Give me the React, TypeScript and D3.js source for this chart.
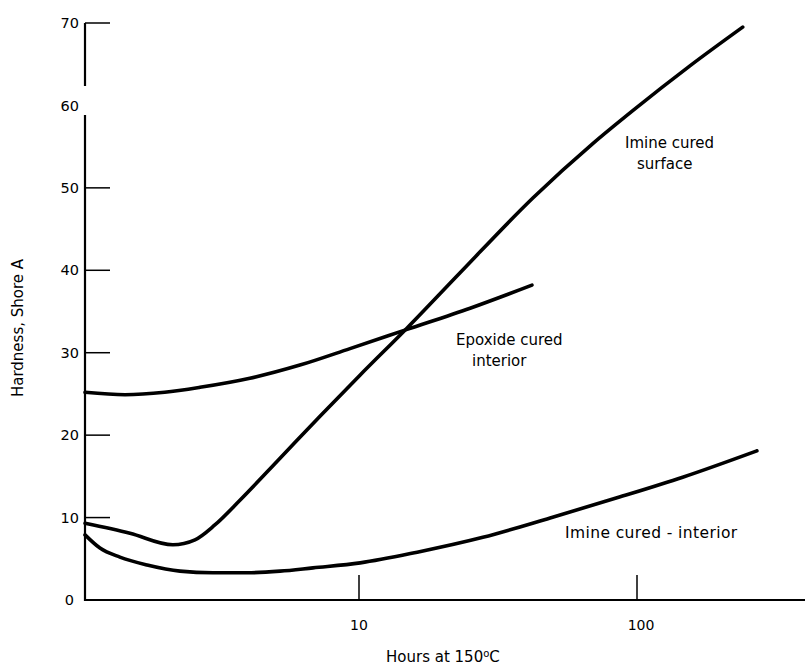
import React from 'react';
import * as d3 from 'd3';

// Hours at 150 C (log scale) vs Shore A hardness
const epoxideHours = [1.034, 1.44, 2.0, 2.68, 4.05, 6.13, 9.28, 14.8, 25.1, 41.9];
const epoxideHard = [25.2, 24.9, 25.2, 25.8, 26.9, 28.5, 30.5, 32.8, 35.4, 38.2];

const surfaceHours = [1.034, 1.5, 2.14, 2.57, 3.03, 3.73, 5.2, 7.24, 10.1, 14.9, 23.1, 42.3, 69.5, 96.8, 155, 240];
const surfaceHard = [9.3, 8.1, 6.7, 7.3, 9.1, 12.1, 17.2, 22.3, 27.3, 33.0, 39.7, 48.8, 55.4, 59.4, 64.8, 69.5];

const interiorHours = [1.034, 1.17, 1.38, 1.73, 2.27, 2.98, 3.96, 5.2, 6.83, 10.1, 16.2, 27.9, 48.7, 84.7, 146, 270];
const interiorHard = [7.9, 6.3, 5.2, 4.25, 3.5, 3.3, 3.3, 3.5, 3.9, 4.5, 5.8, 7.6, 9.95, 12.4, 14.9, 18.1];

const yTicks = [0, 10, 20, 30, 40, 50, 60, 70];
const yTickMarks = [10, 20, 30, 40, 50, 70];
const xTicks = [10, 100];

const font = '"DejaVu Sans", sans-serif';

export default function App() {
  const width = 806;
  const height = 666;

  const x = d3.scaleLog().domain([1, 100]).range([81, 637]);
  const y = d3.scaleLinear().domain([0, 70]).range([600, 23]);

  const axisLeft = 85;
  const axisRight = 805;

  const line = d3
    .line<[number, number]>()
    .x(d => x(d[0]))
    .y(d => y(d[1]))
    .curve(d3.curveMonotoneX);

  const series = [
    d3.zip(epoxideHours, epoxideHard),
    d3.zip(surfaceHours, surfaceHard),
    d3.zip(interiorHours, interiorHard),
  ] as [number, number][][];

  return (
    <svg
      width={width}
      height={height}
      style={{ position: 'absolute', left: 0, top: 0, background: '#fff' }}
      fontFamily={font}
    >
      {/* y axis, broken around the 60 label like the original */}
      <line x1={axisLeft} x2={axisLeft} y1={y(70)} y2={86} stroke="#000" strokeWidth={2.2} />
      <line x1={axisLeft} x2={axisLeft} y1={115} y2={601} stroke="#000" strokeWidth={2.2} />
      {yTickMarks.map(t => (
        <line key={t} x1={axisLeft} x2={axisLeft + 25} y1={y(t)} y2={y(t)} stroke="#000" strokeWidth={1.5} />
      ))}
      {yTicks.map(t => (
        <text key={t} x={t === 0 ? 74 : 79} y={y(t)} dy="0.35em" textAnchor="end" fontSize={14.5}>
          {t}
        </text>
      ))}

      {/* x axis */}
      <line x1={axisLeft - 1} x2={axisRight} y1={600} y2={600} stroke="#000" strokeWidth={2.2} />
      {xTicks.map(t => (
        <g key={t}>
          <line x1={x(t)} x2={x(t)} y1={575} y2={600} stroke="#000" strokeWidth={1.5} />
          <text x={x(t) + (t === 100 ? 4 : 0)} y={625} dy="0.35em" textAnchor="middle" fontSize={14}>
            {t}
          </text>
        </g>
      ))}

      {/* curves */}
      {series.map((s, i) => (
        <path key={i} d={line(s) || ''} fill="none" stroke="#000" strokeWidth={3.6} strokeLinecap="round" />
      ))}

      {/* annotations */}
      <text x={625} y={143} dy="0.35em" fontSize={15}>Imine cured</text>
      <text x={637} y={164} dy="0.35em" fontSize={15}>surface</text>
      <text x={456} y={340} dy="0.35em" fontSize={15}>Epoxide cured</text>
      <text x={472} y={361} dy="0.35em" fontSize={15}>interior</text>
      <text x={565} y={533} dy="0.35em" fontSize={15.5} letterSpacing={0.4}>Imine cured - interior</text>

      {/* axis titles */}
      <text x={386} y={662} fontSize={15}>
        Hours at 150
        <tspan fontSize={10} dy={-5}>o</tspan>
        <tspan dy={5}>C</tspan>
      </text>
      <text
        transform={`translate(18,328) rotate(-90)`}
        textAnchor="middle"
        dy="0.35em"
        fontSize={15}
      >
        Hardness, Shore A
      </text>
    </svg>
  );
}
